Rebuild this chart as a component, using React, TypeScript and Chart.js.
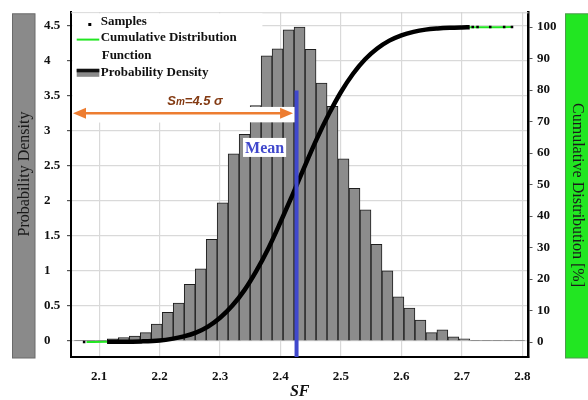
import React, { useEffect, useRef } from "react";
import { Chart, registerables } from "chart.js";

Chart.register(...registerables);

// ---- data ----
const binCenters = [
  2.0679, 2.0861, 2.1043, 2.1224, 2.1406, 2.1588, 2.177, 2.1952, 2.2133, 2.2315,
  2.2497, 2.2679, 2.2861, 2.3042, 2.3224, 2.3406, 2.3588, 2.377, 2.3951, 2.4133,
  2.4315, 2.4497, 2.4679, 2.486, 2.5042, 2.5224, 2.5406, 2.5588, 2.5769, 2.5951,
  2.6133, 2.6315, 2.6497, 2.6678, 2.686, 2.7042, 2.7224, 2.7406, 2.7587, 2.7769,
  2.7951,
];
const densityValues = [
  0.005, 0.005, 0.01, 0.03, 0.05, 0.07, 0.12, 0.24, 0.41, 0.54,
  0.81, 1.03, 1.45, 1.97, 2.67, 2.95, 3.36, 4.07, 4.17, 4.44,
  4.48, 4.16, 3.68, 3.35, 2.6, 2.18, 1.87, 1.38, 1.0, 0.63,
  0.47, 0.3, 0.12, 0.16, 0.06, 0.03, 0.01, 0.005, 0.005, 0.005,
  0.005,
];
const cdfSF = [
  2.079, 2.113, 2.14, 2.17, 2.2, 2.22, 2.24, 2.26, 2.28, 2.3, 2.32, 2.34, 2.36,
  2.38, 2.4, 2.42, 2.44, 2.46, 2.48, 2.5, 2.52, 2.54, 2.56, 2.58, 2.6, 2.62,
  2.64, 2.66, 2.68, 2.7, 2.713, 2.783,
];
const cdfPercent = [
  0, 0.1, 0.1, 0.2, 0.5, 1.0, 1.8, 3.0, 4.9, 7.7, 11.5, 16.4, 22.6,
  29.8, 38.1, 46.8, 55.8, 64.5, 72.4, 79.4, 85.2, 89.8, 93.2, 95.7, 97.4, 98.5,
  99.2, 99.56, 99.78, 99.9, 99.95, 100,
];
const sampleDotSF = [2.075, 2.718, 2.726, 2.747, 2.77, 2.783];
const sampleDotPercent = [0, 100, 100, 100, 100, 100];

const xTickValues = [2.1, 2.2, 2.3, 2.4, 2.5, 2.6, 2.7, 2.8];
const leftTickValues = [0, 0.5, 1, 1.5, 2, 2.5, 3, 3.5, 4, 4.5];
const rightTickValues = [0, 10, 20, 30, 40, 50, 60, 70, 80, 90, 100];
const xBounds = [2.0533, 2.8103];
const leftBounds = [-0.228, 4.69];
const rightBounds = [-4.75, 104.7];

const meanSF = 2.4265;
const meanTopDensity = 3.575;

const labelSamples = "Samples";
const labelCdf = ["Cumulative Distribution", "Function"];
const labelPdf = "Probability Density";
const titleLeft = "Probability Density";
const titleRight = "Cumulative Distribution [%]";
const titleX = "SF";
const meanText = "Mean";
const spanParts = ["S", "m", "=4.5 σ"];

// annotation anchors (data units)
const maskRightSF = 2.37;
const maskBottomDensity = 3.12;
const stripTopDensity = 3.34;
const arrowDensity = 3.25;
const spanTextSF = 2.2584;
const spanTextDensity = 3.43;
const meanLabelSF = 2.3736;
const meanLabelDensity = 2.762;

const SERIF = '"Liberation Serif", "Times New Roman", serif';
const SANS = '"Liberation Sans", Arial, sans-serif';
const ORANGE = "#ED7D31";
const BLUE = "#4048CC";
const GREEN = "#22E622";

const decorPlugin = {
  id: "decor",
  beforeDraw(chart: any) {
    const { ctx, chartArea } = chart;
    ctx.save();
    // left title box
    ctx.fillStyle = "#8A8A8A";
    ctx.strokeStyle = "#6A6A6A";
    ctx.lineWidth = 1;
    const bTop = chartArea.top + 1.5;
    const bBot = chartArea.bottom + 1;
    ctx.fillRect(12.5, bTop, 22.5, bBot - bTop);
    ctx.strokeRect(12.5, bTop, 22.5, bBot - bTop);
    // right title box
    ctx.fillStyle = GREEN;
    ctx.strokeStyle = "#4E9A4E";
    ctx.fillRect(565.5, bTop, 25, bBot - bTop);
    ctx.strokeRect(565.5, bTop, 25, bBot - bTop);

    ctx.fillStyle = "#1A1A1A";
    ctx.font = `16px ${SERIF}`;
    ctx.textAlign = "center";
    ctx.textBaseline = "middle";
    ctx.save();
    ctx.translate(25, 174);
    ctx.rotate(-Math.PI / 2);
    ctx.fillText(titleLeft, 0, 0);
    ctx.restore();
    ctx.save();
    ctx.translate(577, 195);
    ctx.rotate(Math.PI / 2);
    ctx.fillText(titleRight, 0, 0);
    ctx.restore();
    ctx.restore();
  },
  beforeDatasetsDraw(chart: any) {
    const { ctx, chartArea, scales } = chart;
    const x = scales.x;
    const yL = scales.yL;
    ctx.save();
    // top frame line
    ctx.strokeStyle = "#D0D0D0";
    ctx.lineWidth = 1;
    ctx.beginPath();
    ctx.moveTo(chartArea.left, chartArea.top + 0.5);
    ctx.lineTo(chartArea.right, chartArea.top + 0.5);
    ctx.stroke();
    // white area behind legend / annotation
    const l = chartArea.left + 1.5;
    const r = x.getPixelForValue(maskRightSF);
    const t = chartArea.top + 1;
    const b = yL.getPixelForValue(maskBottomDensity);
    ctx.fillStyle = "#FFFFFF";
    ctx.fillRect(l, t, r - l, b - t);
    ctx.restore();
  },
  afterDatasetsDraw(chart: any) {
    const { ctx, chartArea, scales } = chart;
    const x = scales.x;
    const yL = scales.yL;
    const left = chartArea.left;
    const top = chartArea.top;
    const meanPx = x.getPixelForValue(meanSF);
    ctx.save();
    // white strip behind the arrow
    const sTop = yL.getPixelForValue(stripTopDensity);
    const sBot = yL.getPixelForValue(maskBottomDensity);
    ctx.fillStyle = "#FFFFFF";
    ctx.fillRect(left + 1.5, sTop, meanPx - 2 - (left + 1.5), sBot - sTop);

    // double arrow
    const ay = yL.getPixelForValue(arrowDensity);
    const ax0 = left + 2;
    const ax1 = meanPx - 3.5;
    ctx.strokeStyle = ORANGE;
    ctx.fillStyle = ORANGE;
    ctx.lineWidth = 2.5;
    ctx.beginPath();
    ctx.moveTo(ax0 + 8, ay);
    ctx.lineTo(ax1 - 8, ay);
    ctx.stroke();
    ctx.beginPath();
    ctx.moveTo(ax0, ay);
    ctx.lineTo(ax0 + 13, ay - 5.5);
    ctx.lineTo(ax0 + 13, ay + 5.5);
    ctx.closePath();
    ctx.fill();
    ctx.beginPath();
    ctx.moveTo(ax1, ay);
    ctx.lineTo(ax1 - 13, ay - 5.5);
    ctx.lineTo(ax1 - 13, ay + 5.5);
    ctx.closePath();
    ctx.fill();

    // span text
    const fBig = `italic bold 13px ${SANS}`;
    const fSmall = `italic bold 10px ${SANS}`;
    ctx.font = fBig;
    const w0 = ctx.measureText(spanParts[0]).width;
    const w2 = ctx.measureText(spanParts[2]).width;
    ctx.font = fSmall;
    const w1 = ctx.measureText(spanParts[1]).width;
    const tw = w0 + w1 + w2;
    let tx = x.getPixelForValue(spanTextSF) - tw / 2;
    const ty = yL.getPixelForValue(spanTextDensity);
    ctx.fillStyle = "#833A12";
    ctx.textBaseline = "alphabetic";
    ctx.textAlign = "left";
    ctx.font = fBig;
    ctx.fillText(spanParts[0], tx, ty + 4.5);
    tx += w0;
    ctx.font = fSmall;
    ctx.fillText(spanParts[1], tx, ty + 4.5);
    tx += w1;
    ctx.font = fBig;
    ctx.fillText(spanParts[2], tx, ty + 4.5);

    // Mean label
    const mx = x.getPixelForValue(meanLabelSF);
    const my = yL.getPixelForValue(meanLabelDensity);
    ctx.font = `bold 16px ${SERIF}`;
    const mw = ctx.measureText(meanText).width;
    ctx.fillStyle = "#FFFFFF";
    ctx.fillRect(mx - mw / 2 - 2, my - 9.5, mw + 4, 19);
    ctx.fillStyle = BLUE;
    ctx.textAlign = "center";
    ctx.textBaseline = "middle";
    ctx.fillText(meanText, mx, my + 1);

    // legend
    const sx0 = left + 5.7;
    const sx1 = left + 28.3;
    const txL = left + 29.7;
    ctx.fillStyle = "#000";
    ctx.fillRect(left + 17.3, top + 10.7, 3, 3);
    ctx.strokeStyle = GREEN;
    ctx.lineWidth = 2;
    ctx.beginPath();
    ctx.moveTo(sx0, top + 27.3);
    ctx.lineTo(sx1, top + 27.3);
    ctx.stroke();
    ctx.fillStyle = "#8A8A8A";
    ctx.fillRect(sx0, top + 56.5, sx1 - sx0, 8);
    ctx.fillStyle = "#111";
    ctx.fillRect(sx0, top + 56.5, sx1 - sx0, 3.5);

    ctx.fillStyle = "#111";
    ctx.font = `bold 13px ${SERIF}`;
    ctx.textAlign = "left";
    ctx.textBaseline = "middle";
    ctx.fillText(labelSamples, txL, top + 9.7);
    ctx.fillText(labelCdf[0], txL, top + 25.7);
    ctx.fillText(labelCdf[1], txL + 1, top + 43);
    ctx.fillText(labelPdf, txL, top + 60.7);
    ctx.restore();
  },
};

export default function App() {
  const canvasRef = useRef<HTMLCanvasElement | null>(null);

  useEffect(() => {
    if (!canvasRef.current) return;
    const histData = binCenters.map((c, i) => ({ x: c, y: densityValues[i] }));
    const cdfData = cdfSF.map((s, i) => ({ x: s, y: cdfPercent[i] }));
    const curveData = cdfData.slice(1, cdfData.length - 1);
    const dotData = sampleDotSF.map((s, i) => ({ x: s, y: sampleDotPercent[i] }));
    const meanData = [
      { x: meanSF, y: meanTopDensity },
      { x: meanSF, y: leftBounds[0] },
    ];

    const tickFont = { family: SERIF, size: 13, weight: "bold" as const };

    const chart = new Chart(canvasRef.current, {
      type: "bar",
      data: {
        datasets: [
          {
            type: "line",
            label: "Mean",
            data: meanData,
            xAxisID: "x",
            yAxisID: "yL",
            borderColor: BLUE,
            borderWidth: 4,
            pointRadius: 0,
            order: 1,
          } as any,
          {
            type: "line",
            label: labelSamples,
            data: dotData,
            xAxisID: "x",
            yAxisID: "yR",
            showLine: false,
            pointStyle: "rect",
            pointRadius: 1.8,
            pointBackgroundColor: "#000",
            pointBorderColor: "#000",
            pointBorderWidth: 0,
            order: 2,
          } as any,
          {
            type: "line",
            label: labelSamples + " curve",
            data: curveData,
            xAxisID: "x",
            yAxisID: "yR",
            borderColor: "#000",
            borderWidth: 4.5,
            pointRadius: 0,
            cubicInterpolationMode: "monotone",
            order: 3,
          } as any,
          {
            type: "line",
            label: labelCdf.join(" "),
            data: cdfData,
            xAxisID: "x",
            yAxisID: "yR",
            borderColor: GREEN,
            borderWidth: 2,
            pointRadius: 0,
            cubicInterpolationMode: "monotone",
            order: 4,
          } as any,
          {
            type: "bar",
            label: labelPdf,
            data: histData,
            xAxisID: "x",
            yAxisID: "yL",
            backgroundColor: "#8C8C8C",
            borderColor: "#1E1E1E",
            borderWidth: 1,
            barPercentage: 1,
            categoryPercentage: 1,
            order: 5,
          } as any,
        ],
      },
      options: {
        animation: false,
        responsive: true,
        maintainAspectRatio: false,
        layout: { padding: { left: 44, right: 23.5, top: 11, bottom: 0 } },
        plugins: {
          legend: { display: false },
          tooltip: { enabled: false },
        },
        scales: {
          x: {
            type: "linear",
            position: "bottom",
            min: xBounds[0],
            max: xBounds[1],
            offset: false,
            afterBuildTicks: (s: any) => {
              s.ticks = xTickValues.map((v) => ({ value: v }));
            },
            afterFit: (s: any) => {
              s.height = 43;
            },
            grid: {
              offset: false,
              color: "#D9D9D9",
              lineWidth: 1.2,
              drawTicks: false,
            },
            border: { display: true, color: "#000", width: 2 },
            ticks: {
              font: tickFont,
              color: "#111",
              padding: 12,
              maxRotation: 0,
              autoSkip: false,
              callback: (v: any) => String(v),
            },
            title: {
              display: true,
              text: titleX,
              color: "#111",
              font: { family: SERIF, size: 16, weight: "bold", style: "italic" },
              padding: { top: 0, bottom: -1 },
            },
          },
          yL: {
            type: "linear",
            position: "left",
            min: leftBounds[0],
            max: leftBounds[1],
            afterBuildTicks: (s: any) => {
              s.ticks = leftTickValues.map((v) => ({ value: v }));
            },
            afterFit: (s: any) => {
              s.width = 27;
            },
            grid: {
              color: "#D9D9D9",
              lineWidth: 1.2,
              tickColor: "#555",
              tickLength: 4,
            },
            border: { display: true, color: "#000", width: 2 },
            ticks: {
              font: tickFont,
              color: "#111",
              crossAlign: "far",
              autoSkip: false,
              callback: (v: any) => String(v),
            },
          },
          yR: {
            type: "linear",
            position: "right",
            min: rightBounds[0],
            max: rightBounds[1],
            afterBuildTicks: (s: any) => {
              s.ticks = rightTickValues.map((v) => ({ value: v }));
            },
            afterFit: (s: any) => {
              s.width = 36;
            },
            grid: {
              drawOnChartArea: false,
              tickColor: "#555",
              tickLength: 4,
            },
            border: { display: true, color: "#000", width: 2.5 },
            ticks: {
              font: tickFont,
              color: "#111",
              padding: 4.5,
              autoSkip: false,
              callback: (v: any) => String(v),
            },
          },
        },
      } as any,
      plugins: [decorPlugin],
    });
    return () => chart.destroy();
  }, []);

  return (
    <div style={{ position: "absolute", left: 0, top: 0, width: 588, height: 400, background: "#fff" }}>
      <canvas ref={canvasRef} />
    </div>
  );
}
